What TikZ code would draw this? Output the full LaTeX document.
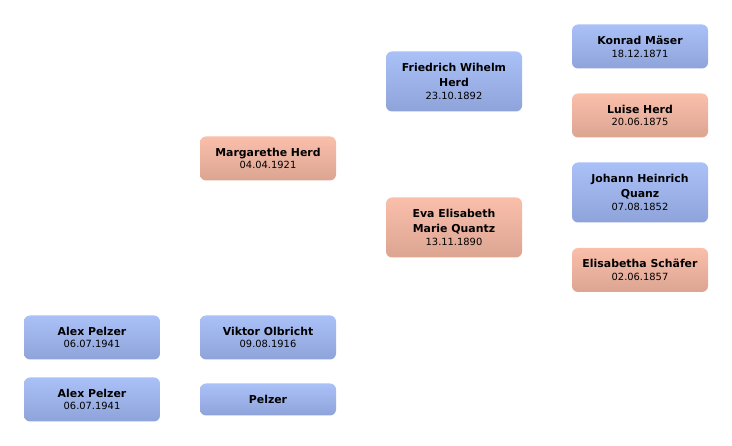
\documentclass[tikz,border=0pt]{standalone}
\usepackage{fontspec}
\setmainfont{DejaVu Sans}
\definecolor{btop}{HTML}{AAC1F8}
\definecolor{bbot}{HTML}{8EA3D9}
\definecolor{rtop}{HTML}{FABFAB}
\definecolor{rbot}{HTML}{DBA592}
\newcommand\dt[1]{\\[-2pt]{\fontsize{9.9}{12}\selectfont\mdseries #1}}
\tikzset{
  person/.style={rounded corners=6pt, minimum width=136pt, minimum height=44pt,
    inner sep=0pt, align=center, text=black,
    font=\fontsize{10.9}{14.8}\selectfont\bfseries},
  male/.style={person, top color=btop, bottom color=bbot},
  female/.style={person, top color=rtop, bottom color=rbot},
  tall/.style={minimum height=60pt},
  short/.style={minimum height=32pt}
}
\begin{document}
\begin{tikzpicture}[x=1pt,y=-1pt]
\useasboundingbox[fill=white] (0,0) rectangle (732,446);
\node[male] (konrad) at (640,46.5) {Konrad Mäser\dt{18.12.1871}};
\node[male,tall] (friedrich) at (454,81.5) {Friedrich Wihelm\\Herd\dt{23.10.1892}};
\node[female] (luise) at (640,115.5) {Luise Herd\dt{20.06.1875}};
\node[male,tall] (johann) at (640,192.5) {Johann Heinrich\\Quanz\dt{07.08.1852}};
\node[female] (margarethe) at (268,158.5) {Margarethe Herd\dt{04.04.1921}};
\node[female,tall] (eva) at (454,227.5) {Eva Elisabeth\\Marie Quantz\dt{13.11.1890}};
\node[female] (elisabetha) at (640,270) {Elisabetha Schäfer\dt{02.06.1857}};
\node[male] (alex1) at (92,337.5) {Alex Pelzer\dt{06.07.1941}};
\node[male] (viktor) at (268,337.5) {Viktor Olbricht\dt{09.08.1916}};
\node[male] (alex2) at (92,399.5) {Alex Pelzer\dt{06.07.1941}};
\node[male,short] (pelzer) at (268,399.5) {Pelzer};
\end{tikzpicture}
\end{document}
